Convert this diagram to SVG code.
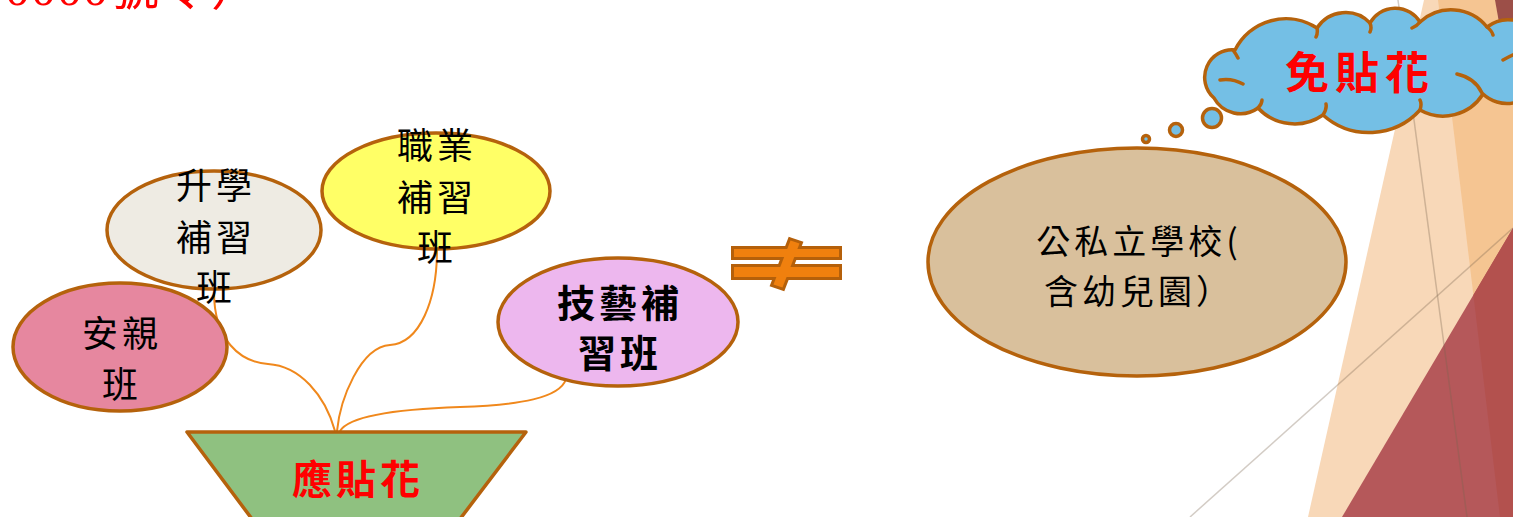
<svg xmlns="http://www.w3.org/2000/svg" width="1513" height="517" viewBox="0 0 1513 517">
<style>
.node{stroke:#B5620C;stroke-width:3.5}
.lbl{font-family:"Noto Sans CJK TC","Noto Sans CJK SC",sans-serif;fill:#000;text-anchor:middle}
.red{font-family:"Noto Sans CJK TC","Noto Sans CJK SC",sans-serif;fill:#FF0000;font-weight:bold;text-anchor:middle}
.conn{fill:none;stroke:#F0881C;stroke-width:2}
.thin{fill:none;stroke:#78644F;stroke-opacity:0.33;stroke-width:1.5}
.inner{fill:none;stroke:#B5620C;stroke-width:3.5;stroke-linecap:round}
</style>
<rect width="1513" height="517" fill="#FFFFFF"/>
<g id="background">
  <polygon points="1424,0 1513,0 1513,517 1308,517" fill="#F8D8B8"/>
  <polygon points="1438,0 1513,0 1513,517 1500,517" fill="#F5C592"/>
  <polygon points="1495,0 1513,0 1513,45 1503,45" fill="#9C4F48"/>
  <polygon points="1513,228 1513,517 1342,517" fill="#B5585A"/>
  <polygon points="1473.4,295 1513,228 1513,517 1500,517" fill="#B3514E"/>
  <line class="thin" x1="1398" y1="0" x2="1467" y2="517"/>
  <line class="thin" x1="1190" y1="517" x2="1513" y2="228"/>
</g>
<g id="header">
  <text x="5" y="5" font-family="Liberation Serif,'Noto Sans CJK TC',serif" font-size="50" letter-spacing="1" fill="#FF0000">0000號令）</text>
</g>
<g id="connectors">
  <path class="conn" d="M214,292 C214,340 240,362 268,364 C300,366 325,395 335,431"/>
  <path class="conn" d="M437,250 C437,300 420,343 390,345 C360,347 340,400 337,431"/>
  <path class="conn" d="M566,379 C560,398 520,405 460,407 C400,409 350,415 340,431"/>
</g>
<g id="anqin">
  <ellipse class="node" cx="120" cy="347" rx="107" ry="64" fill="#E6879F"/>
  <text class="lbl" font-size="36" letter-spacing="4"><tspan x="122" y="347">安親</tspan><tspan x="122" y="398">班</tspan></text>
</g>
<g id="shengxue">
  <ellipse class="node" cx="214" cy="230" rx="107" ry="59" fill="#EEEBE3"/>
  <text class="lbl" font-size="36" letter-spacing="4"><tspan x="216" y="199">升學</tspan><tspan x="216" y="251">補習</tspan><tspan x="216" y="301">班</tspan></text>
</g>
<g id="zhiye">
  <ellipse class="node" cx="436" cy="191" rx="114" ry="58" fill="#FFFF66"/>
  <text class="lbl" font-size="36" letter-spacing="4"><tspan x="437" y="159">職業</tspan><tspan x="437" y="211">補習</tspan><tspan x="437" y="261">班</tspan></text>
</g>
<g id="jiyi">
  <ellipse class="node" cx="618" cy="322" rx="120" ry="64" fill="#EDB7EE"/>
  <text class="lbl" font-size="38" font-weight="bold" letter-spacing="4"><tspan x="620" y="317">技藝補</tspan><tspan x="620" y="367">習班</tspan></text>
</g>
<g id="yingtiehua">
  <polygon class="node" points="187,432 526,432 460,519 252,519" fill="#8FC180" stroke-linejoin="round"/>
  <text class="red" x="358" y="494" font-size="40" letter-spacing="4">應貼花</text>
</g>
<g id="notequal">
  <g stroke="#B5600A" stroke-width="6" stroke-linejoin="miter" fill="#B5600A">
    <rect x="734" y="249" width="105" height="8"/>
    <rect x="734" y="267" width="105" height="10"/>
    <polygon points="790.5,240.5 799.5,243.5 782.5,287.5 773.5,284.5"/>
  </g>
  <g fill="#F0800E">
    <rect x="734" y="249" width="105" height="8"/>
    <rect x="734" y="267" width="105" height="10"/>
    <polygon points="790.5,240.5 799.5,243.5 782.5,287.5 773.5,284.5"/>
  </g>
</g>
<g id="school">
  <ellipse class="node" cx="1137" cy="262" rx="209" ry="114" fill="#D9C09C"/>
  <text class="lbl" font-size="34" letter-spacing="4"><tspan x="1139" y="254">公私立學校(</tspan><tspan x="1139" y="304">含幼兒園）</tspan></text>
</g>
<g id="miantiehua">
  <circle class="node" cx="1146" cy="139" r="3.5" fill="#74BFE5" stroke-width="3"/>
  <circle class="node" cx="1176" cy="130" r="6.5" fill="#74BFE5" stroke-width="3"/>
  <circle class="node" cx="1212" cy="118" r="9.5" fill="#74BFE5" stroke-width="3"/>
  <path class="node" fill="#74BFE5" stroke-linejoin="round" d="M1214,98 A27.5 27.5 0 0 1 1235,50 A57 57 0 0 1 1317,28 A34 34 0 0 1 1370,23 A29 29 0 0 1 1420,22 A46 46 0 0 1 1487,27 A35 35 0 0 1 1540,40 L1540,80 A35 35 0 0 1 1483,94 A47 47 0 0 1 1420,110 A69 69 0 0 1 1323,115 A50 50 0 0 1 1258,108 A30 30 0 0 1 1214,98 Z"/>
  <path class="inner" d="M1220,80 Q1232,78 1243,84 M1233,50 Q1236,54 1238,58 M1317,28 Q1318,33 1316,37 M1370,23 Q1372,28 1370,32 M1420,22 Q1417,26 1412,28 M1487,27 Q1492,31 1493,35 M1457,74 Q1475,78 1482,93 M1503,60 Q1510,56 1515,54 M1420,110 Q1422,104 1420,100 M1323,115 Q1327,109 1326,104 M1258,108 Q1262,104 1262,100"/>
  <text class="red" x="1360" y="89" font-size="44" letter-spacing="6">免貼花</text>
</g>
</svg>
